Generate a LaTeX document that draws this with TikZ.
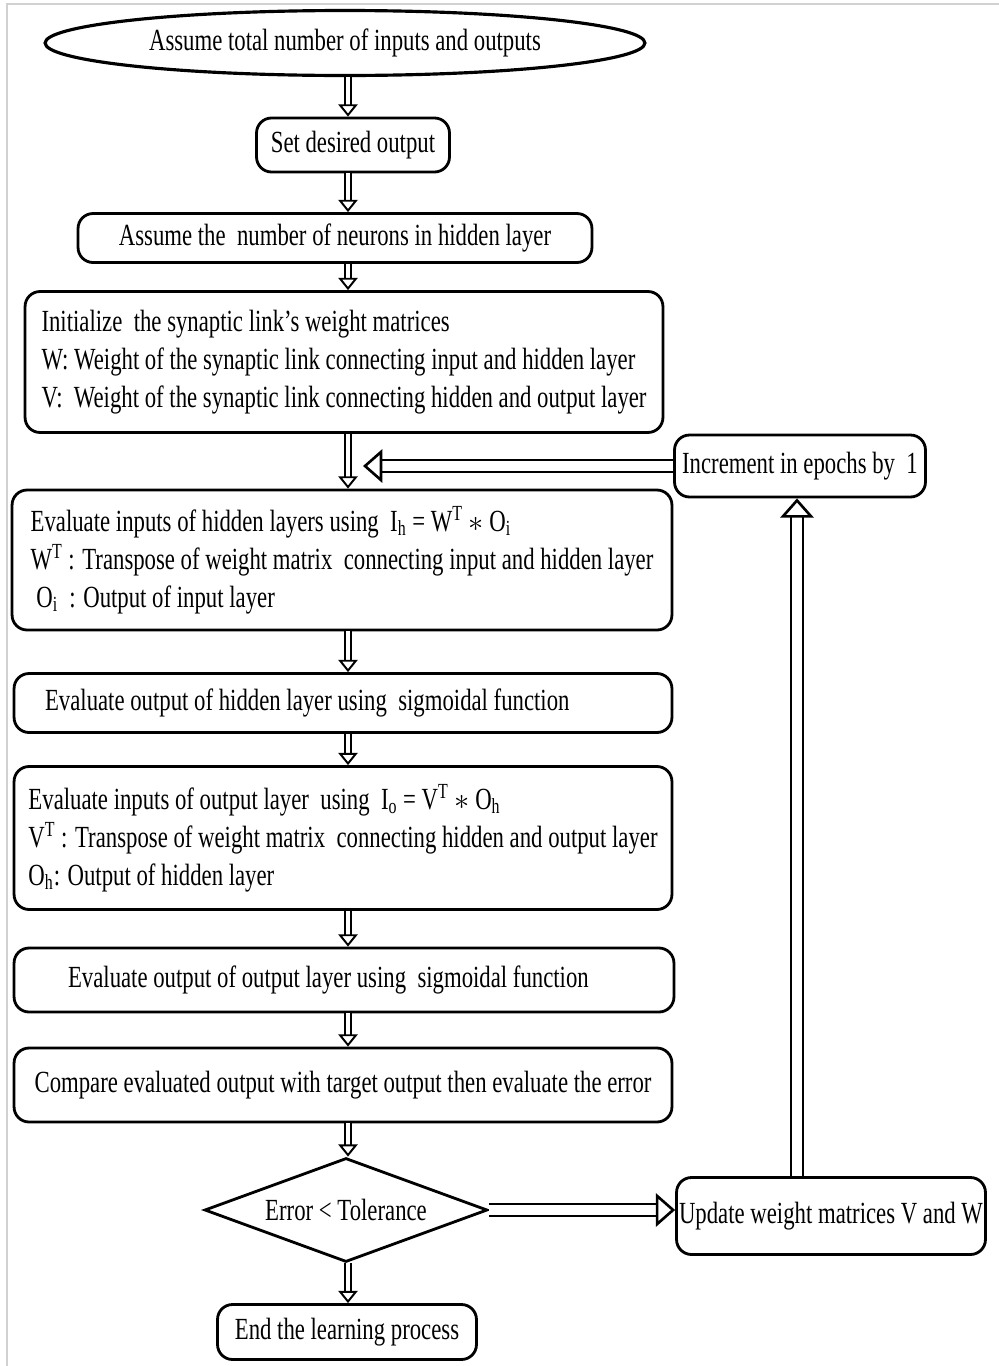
\documentclass[tikz,border=0pt]{standalone}
\usepackage{fontspec}
\setmainfont[FakeStretch=0.74]{Liberation Serif}
\usetikzlibrary{shapes.geometric,arrows.meta}

\begin{document}
\begin{tikzpicture}[x=0.02cm,y=-0.02cm,
    every node/.style={font=\fontsize{17.5}{21.6}\selectfont},
    stepbox/.style={draw,line width=1.6pt,rounded corners=0.3cm,inner sep=0.12cm},
    textbox/.style={stepbox,align=flush left},
    flow/.style={double,double distance=2.2pt,line width=1.1pt,
      -{Triangle[open,length=7pt,width=11pt,line width=1.1pt]}},
    bigflow/.style={double,double distance=5.5pt,line width=1.5pt,
      -{Triangle[open,length=11pt,width=19pt,line width=1.5pt]}}]
  \useasboundingbox (0,0) rectangle (999,1366);
  \draw[black!18,line width=1.2pt] (7,1366) -- (7,4) -- (999,4);
  \coordinate (spine) at (348,0);
  \coordinate (tip) at (363,466);
  \coordinate (up) at (797,0);
  \draw
    (345,43) node[draw,ellipse,line width=1.8pt,minimum width=12cm,minimum height=1.3cm,inner sep=0] (ell)
      {Assume total number of inputs and outputs}
    (353,145) node[stepbox,minimum width=3.86cm,minimum height=1.08cm] (desired) {Set desired output}
    (335,238) node[stepbox,minimum width=10.28cm,minimum height=0.98cm] (neurons)
      {Assume the\ \ number of neurons in hidden layer}
    (344,362) node[textbox,minimum width=12.76cm,minimum height=2.82cm] (init)
      {Initialize\ \ the synaptic link’s weight matrices\\
       W: Weight of the synaptic link connecting input and hidden layer\\
       V:\ \ Weight of the synaptic link connecting hidden and output layer}
    (342,560) node[textbox,minimum width=13.2cm,minimum height=2.8cm] (hidin)
      {Evaluate inputs of hidden layers using\ \ I\textsubscript{h} = W\textsuperscript{T} $\ast$ O\textsubscript{i}\\
       W\textsuperscript{T} : Transpose of weight matrix\ \ connecting input and hidden layer\\
       \ O\textsubscript{i}\ \ : Output of input layer}
    (343,703) node[textbox,text width=12.92cm,minimum height=1.18cm] (hidout)
      {\hspace*{0.5cm}Evaluate output of hidden layer using\ \ sigmoidal function}
    (343,838) node[textbox,minimum width=13.16cm,minimum height=2.86cm] (outin)
      {Evaluate inputs of output layer\ \ using\ \ I\textsubscript{o} = V\textsuperscript{T} $\ast$ O\textsubscript{h}\\
       V\textsuperscript{T} : Transpose of weight matrix\ \ connecting hidden and output layer\\
       O\textsubscript{h}: Output of hidden layer}
    (344,980) node[textbox,text width=12.96cm,minimum height=1.28cm] (outout)
      {\hspace*{0.96cm}Evaluate output of output layer using\ \ sigmoidal function}
    (343,1085) node[stepbox,minimum width=13.16cm,minimum height=1.48cm] (cmp)
      {Compare evaluated output with target output then evaluate the error}
    (346,1210) node[draw,diamond,aspect=2.7,line width=1.6pt,minimum width=5.66cm,minimum height=2.08cm,inner sep=0] (dia)
      {Error < Tolerance}
    (347,1332) node[stepbox,minimum width=5.18cm,minimum height=1.1cm] (endp) {End the learning process}
    (831,1216) node[stepbox,minimum width=6.18cm,minimum height=1.54cm,inner xsep=0.04cm] (upd)
      {Update weight matrices V and W}
    (800,466) node[stepbox,minimum width=5.02cm,minimum height=1.24cm] (incr) {Increment in epochs by\ \ 1};
  % main flow down the middle
  \foreach \a/\b in {ell/desired,desired/neurons,neurons/init,init/hidin,hidin/hidout,
      hidout/outin,outin/outout,outout/cmp,cmp/dia,dia/endp}
    \draw[flow] (\a.south -| spine) -- (\b.north -| spine);
  % loop back
  \draw[bigflow] (dia.east) -- (dia.east -| upd.west);
  \draw[bigflow] (upd.north -| up) -- (incr.south -| up);
  \draw[bigflow] (incr.west) -- (incr.west -| tip);
\end{tikzpicture}
\end{document}
